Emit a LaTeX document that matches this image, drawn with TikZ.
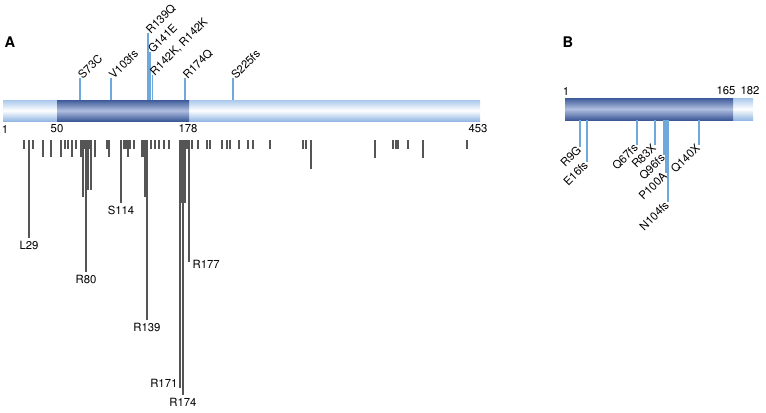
\documentclass[tikz,border=0pt]{standalone}
\usepackage[T1]{fontenc}
\usepackage{helvet}
\renewcommand{\familydefault}{\sfdefault}
\usetikzlibrary{positioning}
\definecolor{tubelight}{HTML}{A9C8EC}
\definecolor{tubeedge}{HTML}{94B8E3}
\definecolor{domaindark}{HTML}{3D5A98}
\definecolor{domainmid}{HTML}{B0BEE0}
\definecolor{mutblue}{HTML}{6FA9DC}
\definecolor{tickgray}{HTML}{555555}

\begin{document}
\begin{tikzpicture}[x=0.75pt,y=0.75pt,font=\fontsize{8.5}{10}\selectfont,
  tubebar/.style={top color=tubelight,bottom color=tubeedge,middle color=white},
  domainbar/.style={top color=domaindark,bottom color=domaindark,middle color=domainmid},
  mut/.style={draw=mutblue,line width=1.1pt},
  hit/.style={draw=tickgray,line width=0.8pt},
  mutup/.style={rotate=45,anchor=west,inner sep=1pt},
  mutdown/.style={rotate=45,anchor=east,inner sep=1pt},
  num/.style={inner sep=0pt},
  hitlabel/.style={anchor=north,inner sep=2pt},
  panel/.style={font=\fontsize{11}{13}\selectfont\bfseries}]
  \useasboundingbox (0,0) rectangle (766,-412);
  \node[panel] (pa) at (10,-42) {A};
  \node[panel] (pb) at (568,-42) {B};

  % panel A: protein bar
  \shade[tubebar] (3,-100) rectangle (480,-121);
  \shade[domainbar] (57,-100) rectangle (189,-121);
  \node[num] (a1) at (5,-129) {1};
  \node[num] (a50) at (57,-129) {50};
  \node[num] (a178) at (188,-129) {178};
  \node[num] (a453) at (478,-129) {453};

  % mutations above the bar
  \foreach \x/\t/\txt in {80/78/S73C,111/78/V103fs,148/33/R139Q,150/52/G141E,
      152.5/75/{R142K, R142K},185/78/R174Q,233/78/S225fs} {
    \node[mutup] (u\x) at (\x-1,-\t) {\txt};
    \draw[mut] (\x,-100) -- (\x,-\t);
  }

  % hits below the bar
  \foreach \x in {24,33,65,68,76,84,89,107,124,126,130,134,151,155,159,164,169,
      187,192,198,207,210,222,227,230,239,248,253,270,303,306,393,396,398,408,467}
    \draw[hit] (\x,-140) -- (\x,-149);
  \foreach \x in {43,51,61,72,81,95,109,128,142,143}
    \draw[hit] (\x,-140) -- (\x,-157);
  \foreach \x/\b in {83/197,88/190,91/190,145/197,311/169,375/158,423/158,
      181/203,182/203,184/203,185/203}
    \draw[hit] (\x,-140) -- (\x,-\b);
  \foreach \x/\b/\txt in {29/238/L29,86/272/R80,121/203/S114,147/320/R139,183/395/R174} {
    \draw[hit] (\x,-140) -- (\x,-\b);
    \node[hitlabel] (h\x) at (\x,-\b) {\txt};
  }
  \draw[hit] (180,-140) -- (180,-388);
  \node[anchor=east,inner sep=1pt] (h180) at (179,-383) {R171};
  \draw[hit] (189,-140) -- (189,-262);
  \node[anchor=west,inner sep=1pt] (h189) at (191,-264) {R177};

  % panel B: protein bar
  \shade[tubebar] (565,-98) rectangle (753,-120);
  \shade[domainbar] (565,-98) rectangle (733,-120);
  \node[num] (b1) at (566,-91) {1};
  \node[num] (b165) at (726,-91) {165};
  \node[num] (b182) at (750,-91) {182};

  % mutations below the bar
  \foreach \x/\b/\txt in {580/147/R9G,587/162/E16fs,637/145/Q67fs,655/145/R83X,
      664/155/Q96fs,666/173/P100A,668/202/N104fs,699/145/Q140X} {
    \draw[mut] (\x,-120) -- (\x,-\b);
    \node[mutdown] (d\x) at (\x,-\b) {\txt};
  }
\end{tikzpicture}
\end{document}
